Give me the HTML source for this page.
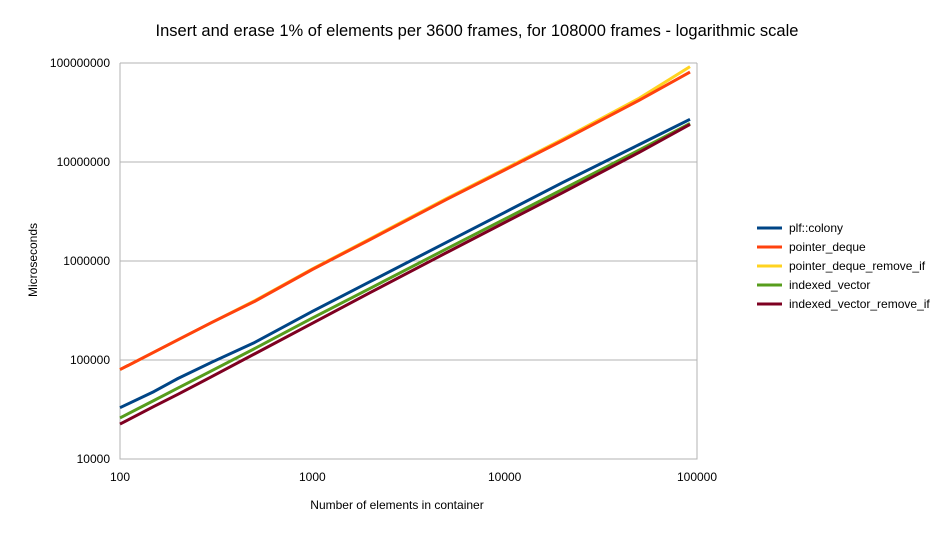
<!DOCTYPE html>
<html><head><meta charset="utf-8"><style>
body{margin:0;background:#fff;font-family:"Liberation Sans",sans-serif;}
</style></head><body>
<svg width="945" height="531" id="c" xmlns="http://www.w3.org/2000/svg" font-family="Liberation Sans, sans-serif">
<text x="477" y="36" font-size="16.5" text-anchor="middle" fill="#000">Insert and erase 1% of elements per 3600 frames, for 108000 frames - logarithmic scale</text>
<text transform="translate(37,260) rotate(-90)" font-size="12" text-anchor="middle">Microseconds</text>
<text x="397" y="509" font-size="12" text-anchor="middle">Number of elements in container</text>
<g id="grid"></g><g id="series"></g><g id="legend"></g>
</svg>
<script>
const xs=[100,150,200,300,500,1000,2000,5000,10000,20000,50000,92000];
const colony=[33000,48000,65000,95000,150000,310000,620000,1550000,3100000,6200000,15000000,27000000];
const pointerDeque=[80000,120000,160000,240000,390000,820000,1650000,4200000,8300000,16500000,42000000,81000000];
const pointerDequeRemoveIf=[80000,120000,160000,240000,395000,830000,1680000,4300000,8500000,17000000,44000000,92000000];
const indexedVector=[26000,39000,52000,78000,130000,265000,530000,1330000,2650000,5300000,13200000,24500000];
const indexedVectorRemoveIf=[22500,34000,45000,68000,115000,235000,480000,1220000,2450000,4900000,12500000,24000000];
const yTicks=[10000,100000,1000000,10000000,100000000];
const xTicks=[100,1000,10000,100000];
const names=["plf::colony","pointer_deque","pointer_deque_remove_if","indexed_vector","indexed_vector_remove_if"];
const colors=["#004586","#ff420e","#ffd320","#579d1c","#7e0021"];
const NS="http://www.w3.org/2000/svg";
const X0=120,X1=697,Y0=459,Y1=63;
function xp(v){return X0+(Math.log10(v)-2)/3*(X1-X0);}
function yp(v){return Y0-(Math.log10(v)-4)/4*(Y0-Y1);}
function mk(t,a,p){const e=document.createElementNS(NS,t);for(const k in a)e.setAttribute(k,a[k]);p.appendChild(e);return e;}
const g=document.getElementById('grid');
yTicks.forEach(v=>{
 const l=mk('line',{x1:X0,x2:X1,y1:yp(v),y2:yp(v),stroke:'#b3b3b3','stroke-width':1},g);
 
 
 const t=mk('text',{x:X0-10,y:yp(v)+4,'font-size':12,'text-anchor':'end'},g);t.textContent=v;
 
 
});
xTicks.forEach(v=>{
 const t=mk('text',{x:xp(v),y:Y0+22,'font-size':12,'text-anchor':'middle'},g);t.textContent=v;
 
 
});
const ax=mk('path',{d:`M${X0} ${Y1}V${Y0}H${X1}V${Y1}`,fill:'none',stroke:'#b3b3b3'},g);


const data=[colony,pointerDeque,pointerDequeRemoveIf,indexedVector,indexedVectorRemoveIf];
const order=[2,1,0,3,4];
const sg=document.getElementById('series');
order.forEach(i=>{
 const d=data[i].map((v,j)=>(j?'L':'M')+xp(xs[j]).toFixed(1)+' '+yp(v).toFixed(1)).join('');
 const p=mk('path',{d:d,fill:'none',stroke:colors[i],'stroke-width':3,'stroke-linejoin':'round'},sg);
 
 
});
const lg=document.getElementById('legend');
names.forEach((n,i)=>{
 const y=228+i*19;
 const l=mk('line',{x1:757,x2:782,y1:y,y2:y,stroke:colors[i],'stroke-width':3},lg);
 
 
 const t=mk('text',{x:789,y:y+4,'font-size':12},lg);t.textContent=n;
 
 
});
</script>
</body></html>
